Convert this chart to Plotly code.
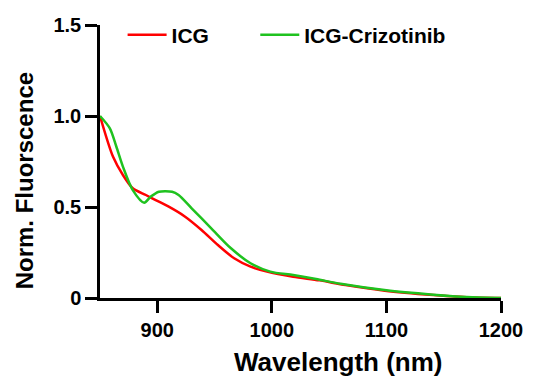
import plotly.graph_objects as go

# Data
icg_x = [850, 861.4, 870, 878.6, 890, 898.6, 910, 924.3, 938.6, 952.9, 967.1, 981.4,
         995.7, 1018.6, 1041.4, 1064.3, 1098.6, 1141, 1170, 1200]
icg_y = [1.0, 0.776, 0.676, 0.603, 0.566, 0.538, 0.502, 0.447, 0.374, 0.291, 0.218, 0.172,
         0.145, 0.117, 0.097, 0.071, 0.040, 0.016, 0.004, 0.0]

criz_x = [850, 858.6, 864.3, 870, 878.6, 888.6, 894.3, 901.4, 912.9, 918.6, 930, 947.1,
          964.3, 981.4, 998.6, 1018.6, 1038.6, 1060, 1100, 1141, 1170, 1200]
criz_y = [1.0, 0.932, 0.831, 0.722, 0.593, 0.524, 0.557, 0.584, 0.584, 0.566, 0.493, 0.383,
          0.273, 0.191, 0.145, 0.126, 0.104, 0.078, 0.042, 0.018, 0.005, 0.0]

series_names = ["ICG", "ICG-Crizotinib"]
series_colors = ["#ff0000", "#1fc21f"]

x_ticks = [900, 1000, 1100, 1200]
y_ticks = [0, 0.5, 1.0, 1.5]
y_ticklabels = ["0", "0.5", "1.0", "1.5"]

FONT = "Liberation Sans, Arial, sans-serif"

fig = go.Figure()
fig.add_trace(go.Scatter(x=icg_x, y=icg_y, mode="lines", name=series_names[0],
                         legend="legend",
                         line=dict(color=series_colors[0], width=2.5, shape="spline", smoothing=0.8)))
fig.add_trace(go.Scatter(x=criz_x, y=criz_y, mode="lines", name=series_names[1],
                         legend="legend2",
                         line=dict(color=series_colors[1], width=2.5, shape="spline", smoothing=0.8)))

axis_common = dict(showgrid=False, zeroline=False, showline=True, linecolor="black",
                   linewidth=2.5, ticks="outside", ticklen=12, tickwidth=2.5,
                   tickcolor="black",
                   tickfont=dict(family=FONT, size=20, color="black", weight="bold"))

fig.update_xaxes(range=[850, 1200], tickvals=x_ticks, **axis_common)
fig.update_yaxes(range=[0, 1.5], tickvals=y_ticks, ticktext=y_ticklabels, **axis_common)

legend_common = dict(orientation="h", y=(298 - 35) / 273, xanchor="left", yanchor="middle",
                     bgcolor="rgba(0,0,0,0)", borderwidth=0,
                     font=dict(family=FONT, size=21, color="black", weight="bold"),
                     itemwidth=39)

fig.update_layout(
    width=535, height=378,
    margin=dict(l=100, r=27, t=25, b=80),
    paper_bgcolor="white", plot_bgcolor="white",
    showlegend=True,
    legend=dict(x=(123 - 100) / 408, **legend_common),
    legend2=dict(x=(258 - 100) / 408, **legend_common),
    annotations=[
        dict(text="Wavelength (nm)", xref="paper", yref="paper",
             x=(342 - 100) / 408, y=-(362 - 298) / 273, xanchor="center", yanchor="middle",
             showarrow=False, font=dict(family=FONT, size=26, color="black", weight="bold")),
        dict(text="Norm. Fluorscence", xref="paper", yref="paper",
             x=-(100 - 23) / 408, y=(298 - 181) / 273, xanchor="center", yanchor="middle",
             textangle=-90, showarrow=False,
             font=dict(family=FONT, size=24, color="black", weight="bold")),
    ],
)

fig.write_html("out.html")
